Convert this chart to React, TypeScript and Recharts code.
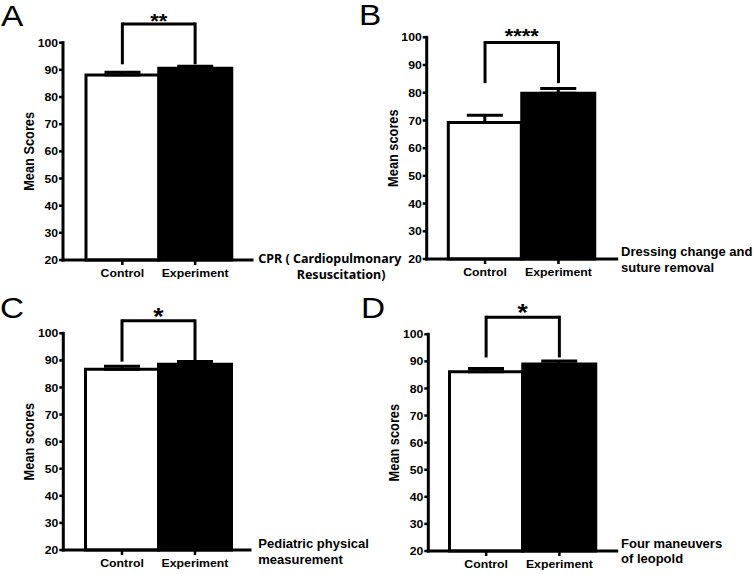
import React from 'react';
import { BarChart, Bar, XAxis, YAxis, Cell, ErrorBar, ReferenceLine } from 'recharts';

// ---------- data ----------
const categories = ['Control', 'Experiment'];
const scoresA = [88.1, 90.6];
const errorsA = [1.0, 0.7];
const scoresB = [69.3, 79.8];
const errorsB = [2.6, 1.7];
const scoresC = [86.7, 88.6];
const errorsC = [1.1, 1.0];
const scoresD = [86.2, 89.0];
const errorsD = [1.2, 1.1];
const yTicks = [20, 30, 40, 50, 60, 70, 80, 90, 100];
const yDomain = [20, 100];
const panelLetters = ['A', 'B', 'C', 'D'];
const yTitles = ['Mean Scores', 'Mean scores', 'Mean scores', 'Mean scores'];
const xTitles = [
  ['CPR ( Cardiopulmonary', 'Resuscitation)'],
  ['Dressing change and', 'suture removal'],
  ['Pediatric physical', 'measurement'],
  ['Four maneuvers', 'of leopold'],
];
const significance = ['**', '****', '*', '*'];
// bracket heights in data units (score scale)
const bracketTops = [106.9, 98.1, 104.6, 106.3];
const bracketFeet = [92.6, 84.0, 90.1, 92.0];

const panelScores = [scoresA, scoresB, scoresC, scoresD];
const panelErrors = [errorsA, errorsB, errorsC, errorsD];

// ---------- styles / layout ----------
const barColors = ['#ffffff', '#000000'];
const FONT = '"Liberation Sans", Arial, sans-serif';
const Y_AXIS_W = 60;
const layouts = [
  { wl: 0, wt: 0, w: 410, h: 290, plotLeft: 63, plotRight: 252, plotTop: 42.7, plotBottom: 260, barLeft: 86, barRight: 231.5,
    starSize: 20, starGap: -3.8, letterX: 1, letterY: 26, titleDx: [6.3, 44.7], titleDy: [3.3, 19.3], titleFont: '"Noto Sans", sans-serif', titleSize: 12.5 },
  { wl: 365, wt: 0, w: 390, h: 290, plotLeft: 426.7, plotRight: 616.7, plotTop: 37.3, plotBottom: 259, barLeft: 448.3, barRight: 595.2,
    starSize: 20, starGap: 0, letterX: 359, letterY: 25, titleDx: [4.3, 4.3], titleDy: [-3.5, 12.5], titleFont: FONT, titleSize: 13 },
  { wl: 0, wt: 287, w: 410, h: 287, plotLeft: 63.3, plotRight: 250, plotTop: 333.3, plotBottom: 550, barLeft: 85.5, barRight: 231.5,
    starSize: 24, starGap: -3.7, letterX: 0, letterY: 318, titleDx: [8.3, 8.3], titleDy: [-2, 13.5], titleFont: FONT, titleSize: 13 },
  { wl: 365, wt: 287, w: 390, h: 287, plotLeft: 428.3, plotRight: 616.7, plotTop: 334.3, plotBottom: 551, barLeft: 449.5, barRight: 596,
    starSize: 24, starGap: -3.8, letterX: 361, letterY: 318, titleDx: [4.3, 4.3], titleDy: [-2.7, 12], titleFont: FONT, titleSize: 13 },
];

function SText({ x, y, text, size, sx = 1, anchor = 'start', weight = 700, family = FONT, rotate = 0, dy = 0 }: any) {
  const tr = `translate(${x} ${y}) scale(${sx} 1)${rotate ? ` rotate(${rotate})` : ''}`;
  return (
    <text transform={tr} y={dy} textAnchor={anchor} fontSize={size} fontWeight={weight} fontFamily={family} fill="#000">
      {text}
    </text>
  );
}

const XTick = (p: any) => (
  <SText x={p.x} y={p.y + 9.3} text={p.payload.value} size={11.5} sx={1.07} anchor="middle" />
);
const YTick = (p: any) => (
  <SText x={p.x} y={p.y + 4.1} text={p.payload.value} size={11.3} sx={1.08} anchor="end" />
);

function Panel({ idx }: { idx: number }) {
  const L = layouts[idx];
  const data = categories.map((c, i) => ({ name: c, value: panelScores[idx][i], err: [0, panelErrors[idx][i]] }));
  const top = bracketTops[idx];
  const foot = bracketFeet[idx];
  const lineStyle = { stroke: '#000', strokeWidth: 3 };
  return (
    <div style={{ position: 'absolute', left: L.wl, top: L.wt }}>
      <BarChart
        width={L.w}
        height={L.h}
        data={data}
        margin={{ top: L.plotTop - L.wt, right: L.wl + L.w - L.plotRight, bottom: 0, left: L.plotLeft - L.wl - Y_AXIS_W }}
        barCategoryGap={0}
        barGap={0}
      >
        <XAxis
          dataKey="name"
          type="category"
          height={L.wt + L.h - L.plotBottom}
          padding={{ left: L.barLeft - L.plotLeft, right: L.plotRight - L.barRight }}
          axisLine={{ stroke: '#000', strokeWidth: 3, strokeLinecap: 'square' }}
          tickLine={{ stroke: '#000', strokeWidth: 2.5 }}
          tickSize={5}
          tickMargin={3}
          interval={0}
          tick={XTick}
          label={(lp: any) => {
            const vb = lp.viewBox;
            const xr = vb.x + vb.width;
            return (
              <g>
                {xTitles[idx].map((t, k) => (
                  <SText key={k} x={xr + L.titleDx[k]} y={vb.y + L.titleDy[k]} text={t} size={L.titleSize} family={L.titleFont} />
                ))}
              </g>
            );
          }}
        />
        <YAxis
          type="number"
          domain={yDomain}
          ticks={yTicks}
          interval={0}
          width={Y_AXIS_W}
          axisLine={{ stroke: '#000', strokeWidth: 3, strokeLinecap: 'square' }}
          tickLine={{ stroke: '#000', strokeWidth: 2.5 }}
          tickSize={4}
          tickMargin={1}
          tick={YTick}
          label={(lp: any) => {
            const vb = lp.viewBox;
            const cx = vb.x + vb.width - 34;
            const cy = vb.y + vb.height / 2;
            return <SText x={cx} y={cy} dy={4.6} text={yTitles[idx]} size={12.8} sx={1.12} rotate={-90} anchor="middle" />;
          }}
        />
        <Bar dataKey="value" stroke="#000" strokeWidth={3} isAnimationActive={false}>
          {data.map((d, i) => (
            <Cell key={d.name} fill={barColors[i]} />
          ))}
          <ErrorBar dataKey="err" width={18} stroke="#000" strokeWidth={3} direction="y" isAnimationActive={false} />
        </Bar>
        <ReferenceLine
          segment={[{ x: categories[0], y: top }, { x: categories[0], y: foot }]}
          ifOverflow="visible"
          {...lineStyle}
          strokeLinecap="square"
        />
        <ReferenceLine
          segment={[{ x: categories[1], y: top }, { x: categories[1], y: foot }]}
          ifOverflow="visible"
          {...lineStyle}
          strokeLinecap="square"
        />
        <ReferenceLine
          segment={[{ x: categories[0], y: top }, { x: categories[1], y: top }]}
          ifOverflow="visible"
          {...lineStyle}
          label={(lp: any) => {
            const vb = lp.viewBox || {};
            const cx = vb.x + (vb.width || 0) / 2;
            return <SText x={cx} y={vb.y - L.starGap} text={significance[idx]} size={L.starSize} sx={1.1} anchor="middle" />;
          }}
        />
      </BarChart>
    </div>
  );
}

export default function App() {
  return (
    <div style={{ position: 'absolute', left: 0, top: 0, width: 755, height: 574, background: '#fff', overflow: 'hidden' }}>
      {layouts.map((_, i) => (
        <Panel key={i} idx={i} />
      ))}
      <svg width={755} height={574} style={{ position: 'absolute', left: 0, top: 0, pointerEvents: 'none' }}>
        {panelLetters.map((l, i) => (
          <SText key={l} x={layouts[i].letterX} y={layouts[i].letterY} text={l} size={29} sx={1.15} weight={400} />
        ))}
      </svg>
    </div>
  );
}
